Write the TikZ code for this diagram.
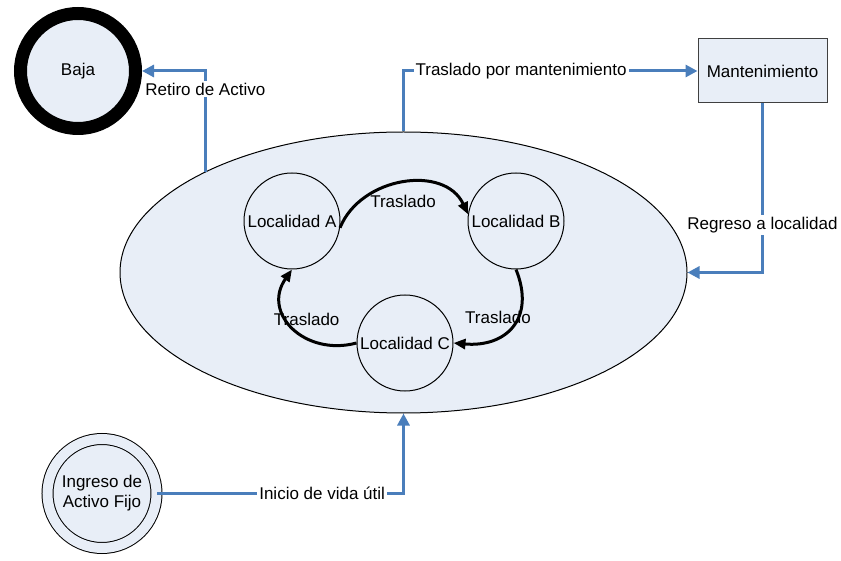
\documentclass[tikz,border=0pt]{standalone}
\usepackage{fontspec}
\setmainfont{Liberation Sans}
\usetikzlibrary{shapes.geometric,arrows.meta,positioning}
\definecolor{lineblue}{RGB}{74,126,187}
\definecolor{fillblue}{RGB}{232,238,247}
\tikzset{>=latex}
\tikzset{
  estado/.style={circle,draw,fill=fillblue,inner sep=0pt,minimum size=48pt,line width=0.5pt},
  flujo/.style={draw=lineblue,line width=1.5pt,-{Triangle[length=6pt,width=6pt]}},
  traslado/.style={line width=1.5pt,-{Triangle[length=6pt,width=5pt]}},
  etiq/.style={fill=white,inner sep=1pt}
}

\begin{document}
\begin{tikzpicture}[x=0.5pt,y=0.5pt,font=\fontsize{8.5}{10}\selectfont]
    \useasboundingbox (0,0) rectangle (841,-561);
    \node [ellipse,draw,fill=fillblue,minimum width=283.5pt,minimum height=140.5pt,inner sep=0pt,line width=0.5pt] (vida) at (403.5,-272.5) {};
    \node [circle,draw,fill=fillblue,line width=6.5pt,minimum size=57.5pt,inner sep=0pt] (baja) at (78,-71) {Baja};
    \node [draw=black!75,fill=fillblue,minimum width=64.5pt,minimum height=32pt,line width=0.5pt] (mant) at (762.5,-71) {Mantenimiento};
    \node [circle,draw,double=fillblue,double distance=5pt,fill=fillblue,minimum size=54.5pt,inner sep=0pt,align=center,line width=0.5pt] (ingreso) at (102,-493.5) {Ingreso de\\Activo Fijo};
    \node [estado] (locA) at (292,-221) {Localidad A};
    \node [estado] (locB) at (516,-221) {Localidad B};
    \node [estado] (locC) at (405,-343) {Localidad C};
    \draw [flujo] (vida.153) |- node [etiq,pos=0.41] (lretiro) {Retiro de Activo} (baja.east);
    \draw [flujo] (vida.north) |- node [etiq,pos=0.70] (lmant) {Traslado por mantenimiento} (mant.west);
    \draw [flujo] (mant.south) |- node [etiq,pos=0.36] (lregreso) {Regreso a localidad} (vida.east);
    \draw [flujo] (ingreso.east) -| node [etiq,pos=0.335] (linicio) {Inicio de vida útil} (vida.south);
    \draw [traslado] (locA.-8) to [out=68,in=115,looseness=1.1] node [below=2pt] (ltrasAB) {Traslado} (locB.172);
    \draw [traslado] (locB.south) to [out=-68,in=-5,looseness=1.4] node [pos=0.35,xshift=-10.9pt,yshift=-2pt] (ltrasBC) {Traslado} (locC.east);
    \draw [traslado] (locC.west) to [out=195,in=-125,looseness=1.4] node [pos=0.7,xshift=12pt,yshift=-6.3pt] (ltrasCA) {Traslado} (locA.south);
\end{tikzpicture}
\end{document}
